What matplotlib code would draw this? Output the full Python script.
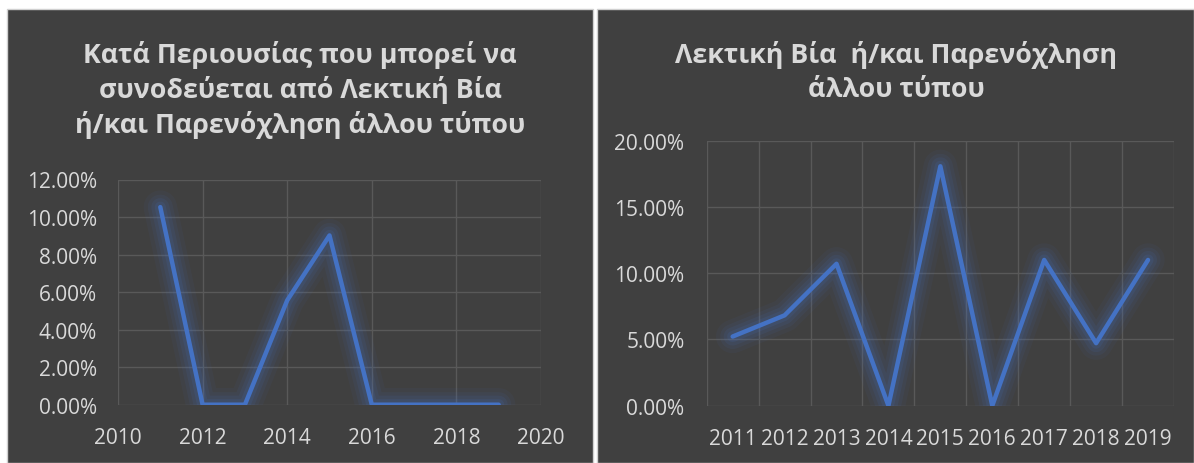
import matplotlib
matplotlib.use("Agg")
import matplotlib.pyplot as plt
from matplotlib.patches import Rectangle
from matplotlib.ticker import FuncFormatter, MultipleLocator

# Δεδομένα
years_left = [2011, 2012, 2013, 2014, 2015, 2016, 2017, 2018, 2019]
share_left = [10.53, 0.0, 0.0, 5.56, 9.02, 0.0, 0.0, 0.0, 0.0]

years_right = ["2011", "2012", "2013", "2014", "2015", "2016", "2017", "2018", "2019"]
share_right = [5.22, 6.82, 10.71, 0.0, 18.07, 0.0, 11.0, 4.72, 11.0]

title_left = "Κατά Περιουσίας που μπορεί να\nσυνοδεύεται από Λεκτική Βία\nή/και Παρενόχληση άλλου τύπου"
title_right = "Λεκτική Βία  ή/και Παρενόχληση\nάλλου τύπου"

BG = "#404040"
GRID = "#595959"
TXT = "#D9D9D9"
LINE = "#4472C4"
W, H = 1194, 464

fig = plt.figure(figsize=(W / 100, H / 100), dpi=100)
fig.patch.set_facecolor("white")

# σκούρα πλαίσια των δύο γραφημάτων
fig.patches.append(Rectangle((7 / W, 0), (593 - 7) / W, (H - 10) / H, transform=fig.transFigure,
                             facecolor=BG, edgecolor="#D0D0D0", linewidth=1.0, zorder=-1))
fig.patches.append(Rectangle((597 / W, 0), (W - 597) / W, (H - 10) / H, transform=fig.transFigure,
                             facecolor=BG, edgecolor="#D0D0D0", linewidth=1.0, zorder=-1))

tfont = ["Open Sans", "DejaVu Sans"]
fig.text(300 / W, 1 - 90 / H, title_left, ha="center", va="center", color=TXT, fontsize=19.3,
         fontweight="bold", family=tfont, linespacing=1.33)
fig.text(896 / W, 1 - 72 / H, title_right, ha="center", va="center", color=TXT, fontsize=19.3,
         fontweight="bold", family=tfont, linespacing=1.4)


def glow_line(ax, x, y):
    # απαλή λάμψη γύρω από τη γραμμή
    for lw, a in [(24, 0.06), (18, 0.08), (13, 0.10), (8, 0.13)]:
        ax.plot(x, y, color=LINE, lw=lw, alpha=a, solid_capstyle="round",
                solid_joinstyle="round", zorder=2)
    ax.plot(x, y, color=LINE, lw=3.2, solid_capstyle="round", solid_joinstyle="round", zorder=3)


def style(ax):
    ax.set_facecolor("none")
    for s in ax.spines.values():
        s.set_visible(False)
    ax.tick_params(which="both", length=0, colors=TXT, labelsize=15)
    for lab in ax.get_xticklabels() + ax.get_yticklabels():
        lab.set_family(["Open Sans", "DejaVu Sans"])
    ax.yaxis.set_major_formatter(FuncFormatter(lambda v, p: f"{v:.2f}%"))


# αριστερό γράφημα
ax1 = fig.add_axes([118 / W, 1 - 405.7 / H, (541 - 118) / W, (405.7 - 180.5) / H])
glow_line(ax1, years_left, share_left)
ax1.set_xlim(2010, 2020)
ax1.set_ylim(0, 12)
ax1.xaxis.set_major_locator(MultipleLocator(2))
ax1.yaxis.set_major_locator(MultipleLocator(2))
ax1.grid(True, color=GRID, lw=1.0, zorder=1)
ax1.tick_params(axis="x", pad=16)
ax1.tick_params(axis="y", pad=15)
style(ax1)

# δεξί γράφημα
ax2 = fig.add_axes([706.7 / W, 1 - 406.7 / H, (1174 - 706.7) / W, (406.7 - 141.7) / H])
xs = list(range(len(years_right)))
glow_line(ax2, xs, share_right)
ax2.set_xlim(-0.5, len(xs) - 0.5)
ax2.set_ylim(0, 20)
ax2.set_xticks(xs)
ax2.set_xticklabels(years_right)
ax2.set_xticks([i - 0.5 for i in range(len(xs) + 1)], minor=True)
ax2.yaxis.set_major_locator(MultipleLocator(5))
ax2.grid(True, axis="y", which="major", color=GRID, lw=1.0, zorder=1)
ax2.grid(True, axis="x", which="minor", color=GRID, lw=1.0, zorder=1)
ax2.tick_params(axis="x", which="both", pad=16)
ax2.tick_params(axis="y", pad=16)
style(ax2)

fig.savefig("out.png", dpi=100, facecolor=fig.get_facecolor())
